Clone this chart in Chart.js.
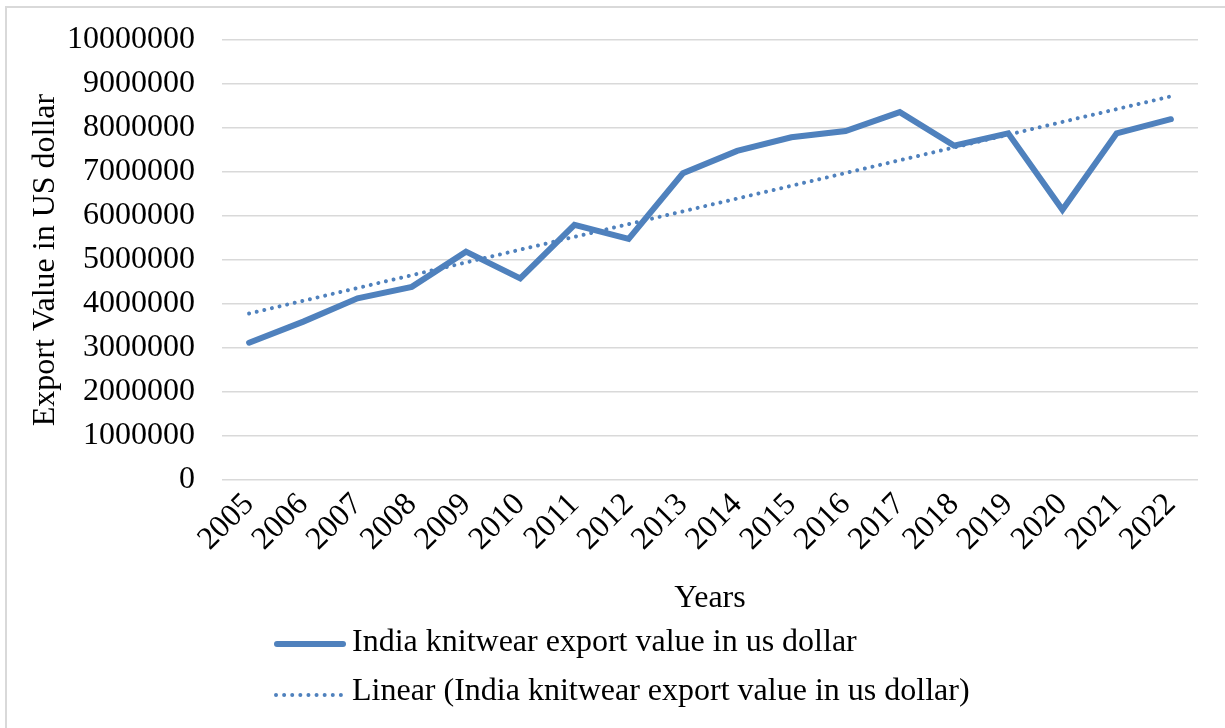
<!DOCTYPE html>
<html><head><meta charset="utf-8">
<script src="https://cdn.jsdelivr.net/npm/chart.js@4.4.1/dist/chart.umd.min.js"></script>
<style>html,body{margin:0;padding:0;background:#fff;overflow:hidden}#wrap{width:1225px;height:728px;position:relative}</style>
</head><body><div id="wrap"><canvas id="c" width="1225" height="728"></canvas></div>
<script>
const years = ['2005','2006','2007','2008','2009','2010','2011','2012','2013','2014','2015','2016','2017','2018','2019','2020','2021','2022'];
const exportValues = [3120000,3600000,4130000,4390000,5190000,4580000,5800000,5480000,6970000,7480000,7790000,7930000,8360000,7600000,7880000,6140000,7880000,8200000];
const seriesName = 'India knitwear export value in us dollar';
const trendName = 'Linear (India knitwear export value in us dollar)';
const yTitle = 'Export Value in US dollar';
const xTitle = 'Years';
const yMin = 0, yMax = 10000000, yStep = 1000000;

// Least-squares linear trendline of the series (as the spreadsheet trendline does)
const n = exportValues.length;
const mx = (n - 1) / 2;
const my = exportValues.reduce((a, b) => a + b, 0) / n;
let sxy = 0, sxx = 0;
exportValues.forEach((v, i) => { sxy += (i - mx) * (v - my); sxx += (i - mx) * (i - mx); });
const slope = sxy / sxx, intercept = my - slope * mx;
const trendValues = exportValues.map((v, i) => intercept + slope * i);

const BLUE = '#4f81bd';
const FONT = 'Liberation Serif, "Times New Roman", serif';
const FS = 32;

const decor = {
  id: 'decor',
  afterDraw(chart) {
    const ctx = chart.ctx;
    ctx.save();
    ctx.strokeStyle = '#d9d9d9';
    ctx.lineWidth = 2;
    ctx.strokeRect(6, 7, 1400, 900);
    const ds = chart.data.datasets;
    ctx.font = FS + 'px ' + FONT;
    ctx.fillStyle = '#000';
    ctx.textBaseline = 'middle';
    ctx.textAlign = 'left';
    ctx.strokeStyle = ds[0].borderColor;
    ctx.lineWidth = ds[0].borderWidth;
    ctx.lineCap = 'round';
    ctx.setLineDash([]);
    ctx.beginPath(); ctx.moveTo(277, 644); ctx.lineTo(343, 644); ctx.stroke();
    ctx.fillText(ds[0].label, 352, 643);
    ctx.strokeStyle = ds[1].borderColor;
    ctx.lineWidth = ds[1].borderWidth;
    ctx.setLineDash([0.01, 8.1]);
    ctx.beginPath(); ctx.moveTo(276, 695); ctx.lineTo(346, 695); ctx.stroke();
    ctx.setLineDash([]);
    ctx.fillText(ds[1].label, 352, 692);
    ctx.restore();
  }
};

new Chart(document.getElementById('c'), {
  type: 'line',
  data: {
    labels: years,
    datasets: [
      { label: seriesName, data: exportValues, borderColor: BLUE, backgroundColor: BLUE, borderWidth: 6,
        pointRadius: 0, tension: 0, borderCapStyle: 'round', borderJoinStyle: 'miter', order: 1 },
      { label: trendName, data: trendValues, borderColor: BLUE, backgroundColor: BLUE, borderWidth: 4,
        borderDash: [0.01, 7.8], borderCapStyle: 'round', pointRadius: 0, tension: 0, order: 0 }
    ]
  },
  options: {
    responsive: false, animation: false, devicePixelRatio: 1,
    layout: { padding: { left: 10, right: 27, top: 40, bottom: 110 } },
    plugins: { legend: { display: false }, tooltip: { enabled: false } },
    scales: {
      x: {
        offset: true,
        grid: { display: false, drawTicks: false },
        border: { display: false },
        ticks: { color: '#000', font: { family: FONT, size: FS }, autoSkip: false, maxRotation: 45, minRotation: 45, padding: 6 },
        title: { display: true, text: xTitle, color: '#000', font: { family: FONT, size: FS }, padding: { top: 0, bottom: 0 } },
        afterFit(scale) { scale.height = 728 - 110 - 480; scale.paddingLeft = 0; scale.paddingRight = 0; }
      },
      y: {
        min: yMin, max: yMax,
        grid: { color: '#d9d9d9', lineWidth: 1.5, drawTicks: false },
        border: { display: false },
        ticks: { stepSize: yStep, color: '#000', font: { family: FONT, size: FS }, padding: 27,
                 callback: v => String(v) },
        title: { display: true, text: yTitle, color: '#000', font: { family: FONT, size: FS }, padding: { top: 16, bottom: 0 } },
        afterFit(scale) { scale.width = 222 - 10; scale.paddingTop = 0; scale.paddingBottom = 0; }
      }
    }
  },
  plugins: [decor]
});
</script>
</body></html>
